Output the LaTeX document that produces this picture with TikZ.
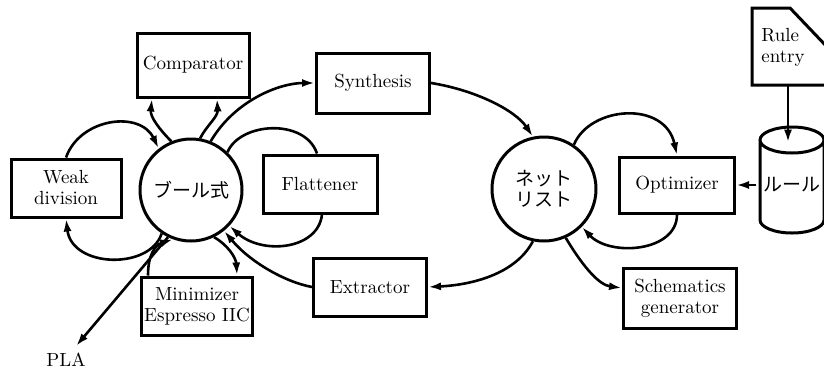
\documentclass[tikz,border=0pt]{standalone}
\usepackage{fontspec}
\newfontfamily\jp{Noto Sans CJK JP}
\usetikzlibrary{arrows.meta}

\begin{document}
\begin{tikzpicture}[
  x=0.5pt, y=-0.5pt,
  every node/.style={font=\fontsize{9.5}{10.5}\selectfont},
  bx/.style={draw, line width=1.5pt, align=center, minimum width=56pt,
             minimum height=29pt, inner sep=1pt},
  crc/.style={draw, circle, line width=1.5pt, minimum size=51pt, inner sep=0pt,
              align=center, font=\jp\fontsize{9.5}{10.5}\selectfont},
  fl/.style={-{Latex[length=6.5pt,width=4pt]}, line width=1.3pt},
  ln/.style={line width=1.3pt}
]
\useasboundingbox (0,0) rectangle (824,370);

\node[crc] (bool) at (191,190) {ブール式};
\node[crc, minimum size=52pt] (net) at (544,189) {ネット\\リスト};
\node[bx, minimum height=32pt] (cmp) at (193,65) {Comparator};
\node[bx, minimum width=55pt] (weak) at (66,188) {Weak\\division};
\node[bx, minimum width=57pt] (flat) at (320,184) {Flattener};
\node[bx, minimum width=55.5pt] (mini) at (197,306) {Minimizer\\Espresso IIC};
\node[bx, minimum width=56.5pt, minimum height=30pt] (syn) at (373,83) {Synthesis};
\node[bx, minimum width=56.5pt] (ext) at (370,287) {Extractor};
\node[bx, minimum width=57.5pt, minimum height=28pt] (opt) at (677,185) {Optimizer};
\node[bx, minimum width=56.5pt, minimum height=30pt] (sch) at (680,298) {Schematics\\generator};
\node (pla) at (66,360) {PLA};
\node[font=\jp\fontsize{9.5}{10.5}\selectfont, minimum width=32pt, minimum height=47pt] (rul) at (792,185) {ルール};
\node[align=left, minimum height=38.5pt] (ent) at (783,47) {Rule\\entry};

\draw[line width=1.5pt] (760,140) -- (760,220)
  arc[start angle=180, end angle=360, x radius=16pt, y radius=6.5pt] -- (824,140)
  arc[start angle=0, end angle=360, x radius=16pt, y radius=6.5pt];
\draw[line width=1.5pt] (752,8) -- (790,8) -- (830,50) -- (830,85) -- (752,85) -- cycle;

\draw[fl] (weak.north) .. controls (80,118) and (140,110) .. (bool.128);
\draw[fl] (bool.236) .. controls (150,270) and (72,268) .. (weak.south);
\draw[fl] (bool.112) .. controls (160,130) and (150,117) .. ([xshift=-20.5pt]cmp.south);
\draw[fl] (bool.80) .. controls (207,125) and (218,117) .. ([xshift=12pt]cmp.south);
\draw[fl] (bool.68) .. controls (235,100) and (280,83) .. (syn.west);
\draw[fl] (syn.east) .. controls (475,90) and (515,110) .. (net.102);
\draw[ln] (bool.46) .. controls (240,122) and (305,118) .. ([xshift=-1.5pt]flat.north);
\draw[fl] ([xshift=1pt]flat.south) .. controls (318,250) and (262,255) .. (bool.317);
\draw[fl] (ext.west) .. controls (285,282) and (250,262) .. (bool.309);
\draw[fl] (net.258) .. controls (515,275) and (470,285) .. (ext.east);
\draw[fl] ([xshift=-24.5pt]mini.north) .. controls (148,255) and (155,245) .. (bool.250);
\draw[fl] (bool.296) .. controls (228,245) and (236,258) .. ([xshift=20pt]mini.north);
\draw[fl] (bool.244) -- ([xshift=5pt]pla.north);
\draw[fl] (net.56) .. controls (590,106) and (665,100) .. (opt.north);
\draw[fl] (opt.south) .. controls (677,252) and (610,257) .. (net.315);
\draw[fl] (net.294) .. controls (585,270) and (600,285) .. ([yshift=5pt]sch.west);
\draw[fl] (rul.west) -- (opt.east);
\draw[fl] ([xshift=2.5pt]ent.south) -- ([xshift=-2pt,yshift=-2.5pt]rul.north);

\end{tikzpicture}
\end{document}
